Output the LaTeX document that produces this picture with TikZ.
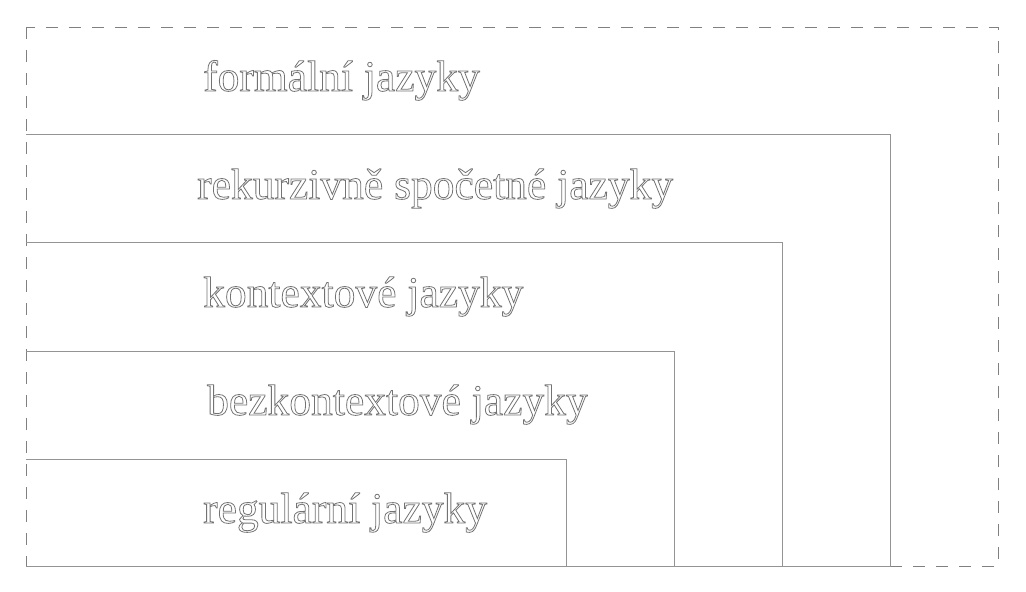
\documentclass[tikz,border=0pt]{standalone}
\usepackage{fontspec}
\setmainfont{Liberation Serif}
\newcommand\outlinetext[1]{\special{pdf:code q 0.45 0.45 0.45 RG 0.8 w 1 Tr}#1\special{pdf:code Q}}
\tikzset{
  lang/.style={anchor=base west, inner sep=0pt, font=\fontsize{43.5}{48}\selectfont},
  setbox/.style={draw=black!42, line width=1pt},
  outerbox/.style={draw=black!50, line width=1pt, dash pattern=on 12pt off 11pt},
}
\begin{document}
\begin{tikzpicture}[x=1pt,y=-1pt]
\useasboundingbox (0,0) rectangle (1026,592);
\draw[outerbox] (26,27) rectangle (998,566);
\draw[setbox] (26,134) -| (890,566) -- (26,566);
\draw[setbox] (26,242) -| (782,566);
\draw[setbox] (26,351) -| (674,566);
\draw[setbox] (26,459) -| (566,566);
\node[lang] (formal) at (203,91) {\outlinetext{formální jazyky}};
\node[lang] (rekurz) at (197,199) {\outlinetext{rekurzivně spočetné jazyky}};
\node[lang] (kontext) at (203,307) {\outlinetext{kontextové jazyky}};
\node[lang] (bezkontext) at (207,415) {\outlinetext{bezkontextové jazyky}};
\node[lang] (regular) at (203,523) {\outlinetext{regulární jazyky}};
\end{tikzpicture}
\end{document}
